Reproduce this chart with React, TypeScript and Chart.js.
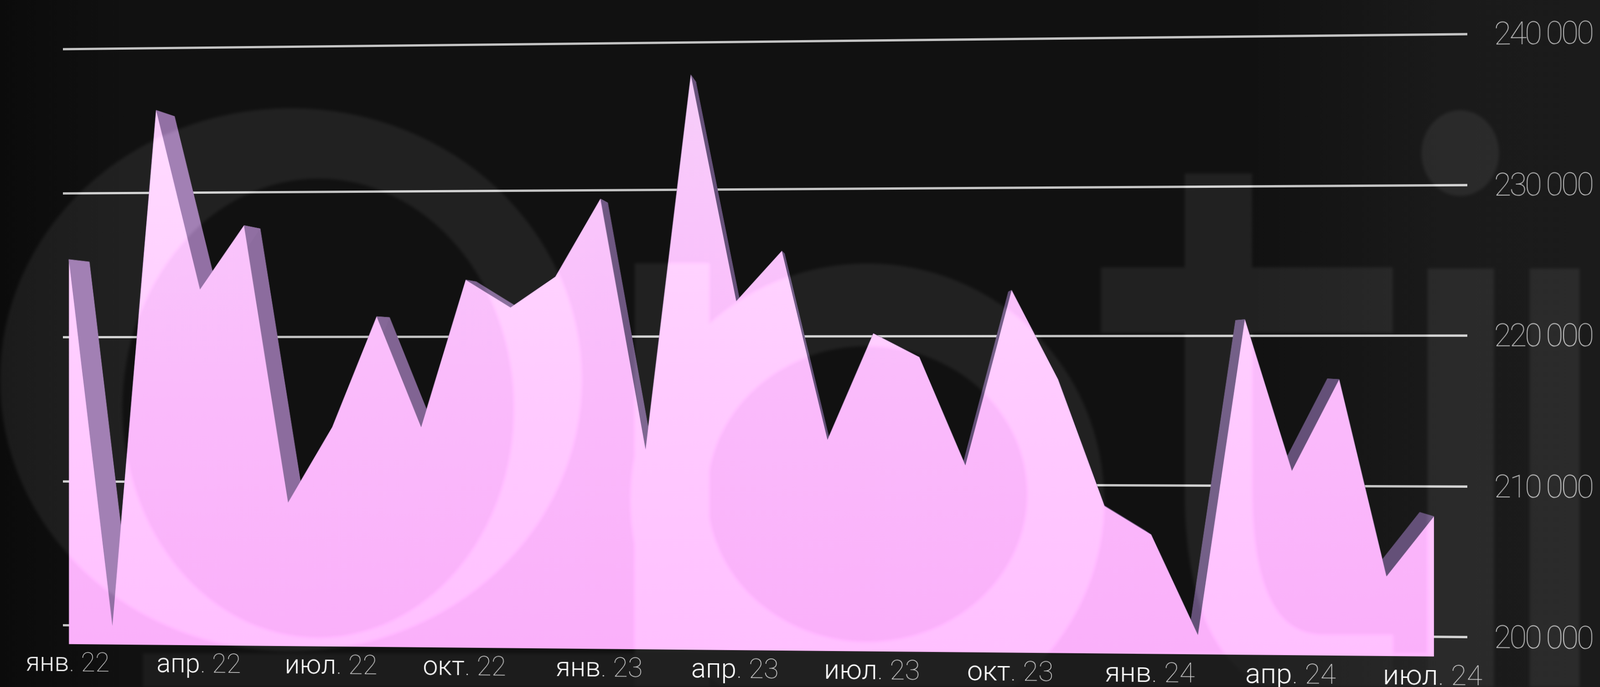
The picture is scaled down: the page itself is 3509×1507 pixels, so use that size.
import React, { useEffect, useRef } from "react";
import { Chart, registerables } from "chart.js";

Chart.register(...registerables);

const W = 3509;
const H = 1507;

const months = [
  "янв. 22","фев. 22","мар. 22","апр. 22","май 22","июн. 22","июл. 22","авг. 22","сен. 22","окт. 22","ноя. 22","дек. 22",
  "янв. 23","фев. 23","мар. 23","апр. 23","май 23","июн. 23","июл. 23","авг. 23","сен. 23","окт. 23","ноя. 23","дек. 23",
  "янв. 24","фев. 24","мар. 24","апр. 24","май 24","июн. 24","июл. 24",
];
const values = [
  225400, 200000, 235700, 223300, 227700, 208600, 213800, 221400, 213800, 223900, 222000, 224100,
  229400, 212300, 237800, 222400, 225800, 213000, 220200, 218600, 211300, 223100, 217100, 208600,
  206700, 200000, 221100, 211000, 217100, 204000, 208000,
];
const quarterIndex = [0, 3, 6, 9, 12, 15, 18, 21, 24, 27, 30];
const yTicks = [200000, 210000, 220000, 230000, 240000];

const FONT_FAMILY = "Roboto, 'Liberation Sans', sans-serif";

// destination of the plot's four corners on the page (perspective tilt)
const QUAD = { tl: [138, 108], tr: [3218, 75], br: [3218, 1398], bl: [138, 1372] };

function solve(A: number[][], b: number[]) {
  const n = b.length;
  const M = A.map((r, i) => [...r, b[i]]);
  for (let c = 0; c < n; c++) {
    let p = c;
    for (let r = c + 1; r < n; r++) if (Math.abs(M[r][c]) > Math.abs(M[p][c])) p = r;
    [M[c], M[p]] = [M[p], M[c]];
    for (let r = 0; r < n; r++) {
      if (r === c) continue;
      const f = M[r][c] / M[c][c];
      for (let k = c; k <= n; k++) M[r][k] -= f * M[c][k];
    }
  }
  return M.map((r, i) => r[n] / r[i]);
}

function homography(src: number[][], dst: number[][]) {
  const A: number[][] = [];
  const b: number[] = [];
  for (let i = 0; i < 4; i++) {
    const [x, y] = src[i];
    const [X, Y] = dst[i];
    A.push([x, y, 1, 0, 0, 0, -x * X, -y * X]);
    b.push(X);
    A.push([0, 0, 0, x, y, 1, -x * Y, -y * Y]);
    b.push(Y);
  }
  const h = solve(A, b);
  return `matrix3d(${h[0]},${h[3]},0,${h[6]},${h[1]},${h[4]},0,${h[7]},0,0,1,0,${h[2]},${h[5]},0,1)`;
}

const mix = (a: number[], b: number[], t: number) =>
  `rgb(${a.map((v, i) => Math.round(v + (b[i] - v) * t)).join(",")})`;

const tightText = {
  id: "tightText",
  beforeDraw(chart: any) {
    chart.ctx.letterSpacing = "-4px";
  },
};

const extrude = {
  id: "extrude",
  beforeDatasetsDraw(chart: any) {
    const pts = chart.getDatasetMeta(0).data;
    const ctx = chart.ctx;
    const k = 0.0257;
    const vx = 1980;
    const vy = 770;
    const back = (p: any) => [p.x + k * (vx - p.x), p.y + k * (vy - p.y)];
    ctx.save();
    for (let i = pts.length - 2; i >= 0; i--) {
      const a = pts[i];
      const b = pts[i + 1];
      const [ax, ay] = back(a);
      const [bx, by] = back(b);
      const t = Math.min(1, Math.max(0, (a.x - 400) / 1200));
      const c = mix([146, 112, 164], [100, 80, 120], t);
      ctx.fillStyle = c;
      ctx.strokeStyle = c;
      ctx.lineWidth = 1;
      ctx.beginPath();
      ctx.moveTo(a.x, a.y);
      ctx.lineTo(b.x, b.y);
      ctx.lineTo(bx, by);
      ctx.lineTo(ax, ay);
      ctx.closePath();
      ctx.fill();
      ctx.stroke();
    }
    ctx.restore();
  },
};

const xLabels = {
  id: "xLabels",
  afterDraw(chart: any) {
    const ctx = chart.ctx;
    const sx = chart.scales.x;
    const base = chart.chartArea.bottom + 60;
    ctx.save();
    ctx.textBaseline = "alphabetic";
    ctx.textAlign = "left";
    ctx.letterSpacing = "0px";
    for (const i of quarterIndex) {
      const [head, tail] = months[i].split(".");
      const rest = "." + tail;
      ctx.font = `300 60px ${FONT_FAMILY}`;
      const w1 = ctx.measureText(head).width;
      ctx.font = `100 60px ${FONT_FAMILY}`;
      const w2 = ctx.measureText(rest).width;
      const x0 = sx.getPixelForValue(i) - (w1 + w2) / 2 - 3;
      ctx.font = `300 60px ${FONT_FAMILY}`;
      ctx.fillStyle = "#efefef";
      ctx.fillText(head, x0, base);
      ctx.font = `100 60px ${FONT_FAMILY}`;
      ctx.fillStyle = "#c4c4c4";
      ctx.fillText(rest, x0 + w1, base);
    }
    ctx.restore();
  },
};

export default function App() {
  const ref = useRef<HTMLCanvasElement>(null);

  useEffect(() => {
    const canvas = ref.current!;
    document.body.style.background = "#111";
    const chart = new Chart(canvas, {
      type: "line",
      data: {
        datasets: [
          {
            label: "value",
            data: values.map((v, i) => ({ x: i, y: v })),
            fill: "start",
            borderWidth: 0,
            pointRadius: 0,
            tension: 0,
            backgroundColor: (c: any) => {
              const area = c.chart.chartArea;
              if (!area) return "#f9b4f9";
              const g = c.chart.ctx.createLinearGradient(0, area.top, 0, area.bottom);
              g.addColorStop(0, "#f5d0f8");
              g.addColorStop(0.25, "#f9c6fb");
              g.addColorStop(0.6, "#fabafb");
              g.addColorStop(1, "#fab0fa");
              return g;
            },
          },
        ],
      },
      options: {
        responsive: false,
        animation: false,
        devicePixelRatio: 1,
        layout: { padding: { left: 138, top: 92, right: 0, bottom: 81 } },
        plugins: { legend: { display: false }, tooltip: { enabled: false } },
        scales: {
          x: {
            type: "linear",
            min: -0.136,
            max: 30.7,
            grid: { display: false },
            border: { display: false },
            ticks: { display: false },
            afterBuildTicks: (axis: any) => {
              axis.ticks = quarterIndex.map((value) => ({ value }));
            },
          },
          y: {
            position: "right",
            min: 198700,
            max: 240000,
            grid: { color: "#c4c4c4", lineWidth: 5, drawTicks: false },
            border: { display: false },
            afterFit: (axis: any) => {
              axis.width = W - 3218;
            },
            afterBuildTicks: (axis: any) => {
              axis.ticks = yTicks.map((value) => ({ value }));
            },
            ticks: {
              padding: 56,
              labelOffset: 6,
              color: "#c0c0c0",
              font: { family: FONT_FAMILY, size: 66, weight: "100" },
              callback: (v: any) => String(v).replace(/(\d{3})$/, " $1"),
            },
          },
        },
      },
      plugins: [tightText, extrude, xLabels],
    } as any);

    const a = chart.chartArea;
    const yTop = chart.scales.y.getPixelForValue(240000);
    const yBot = chart.scales.y.getPixelForValue(200000);
    canvas.style.transform = homography(
      [[a.left, yTop], [a.right, yTop], [a.right, yBot], [a.left, yBot]],
      [QUAD.tl, QUAD.tr, QUAD.br, QUAD.bl]
    );
    return () => chart.destroy();
  }, []);

  return (
    <div
      style={{
        position: "fixed",
        left: 0,
        top: 0,
        width: W,
        height: H,
        overflow: "hidden",
        background: "linear-gradient(90deg,#0b0b0b 0%,#111 8%,#111 78%,#1a1a1a 90%,#1b1b1b 100%)",
      }}
    >
      <canvas
        ref={ref}
        width={W}
        height={H}
        style={{
          position: "absolute",
          left: 0,
          top: 0,
          width: W,
          height: H,
          transformOrigin: "0 0",
          filter: "blur(0.7px)",
        }}
      />
      <svg
        viewBox="0 0 1568 673"
        preserveAspectRatio="none"
        width={W}
        height={H}
        style={{
          position: "absolute",
          left: 0,
          top: 0,
          mixBlendMode: "plus-lighter",
          filter: "blur(3px)",
          pointerEvents: "none",
        }}
      >
        <g fill="#101010" stroke="none">
          <path
            fillRule="evenodd"
            d="M0 372a285 266 0 1 0 570 0a285 266 0 1 0 -570 0z M120 400a192 225 0 1 0 384 0a192 225 0 1 0 -384 0z"
          />
          <path
            fillRule="evenodd"
            d="M618 490a232 232 0 1 0 464 0a232 232 0 1 0 -464 0z M693 484a157 145 0 1 0 314 0a157 145 0 1 0 -314 0z"
          />
          <rect x="622" y="258" width="73" height="415" />
          <rect x="1161" y="170" width="66" height="310" />
          <rect x="1079" y="262" width="286" height="64" />
          <path d="M1194 480 Q1194 655 1300 655 H1365" fill="none" stroke="#101010" strokeWidth="66" />
          <ellipse cx="1431" cy="150" rx="38" ry="42" />
          <rect x="1399" y="263" width="65" height="410" />
          <rect x="1499" y="263" width="49" height="410" />
          <rect x="140" y="640" width="1260" height="33" fillOpacity="0.7" />
        </g>
      </svg>
    </div>
  );
}
